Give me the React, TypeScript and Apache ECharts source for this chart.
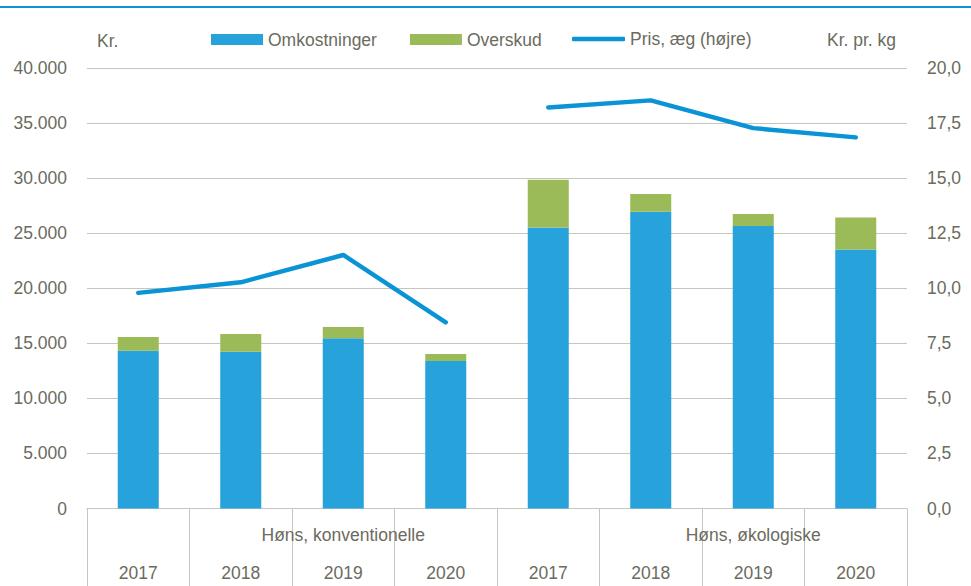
import React, { useEffect, useRef } from "react";
import * as echarts from "echarts";

const years = ["2017", "2018", "2019", "2020", "2017", "2018", "2019", "2020"];
const groupLabels = ["", "", "Høns, konventionelle", "", "", "", "Høns, økologiske", ""];
const groupSize = 4;
const omkostninger = [14330, 14240, 15450, 13390, 25510, 26940, 25660, 23510];
const overskud = [1240, 1610, 1030, 640, 4340, 1610, 1090, 2910];
const prisAeg = [9.79, 10.27, 11.51, 8.45, 18.21, 18.53, 17.27, 16.85];
const seriesNames = ["Omkostninger", "Overskud", "Pris, æg (højre)"];
const leftUnit = "Kr.";
const rightUnit = "Kr. pr. kg";

const TEXT = "#6b6b5e";
const GRID = "#c6c6bc";
const BLUE = "#27a2db";
const GREEN = "#9bbb59";
const LINE = "#0a93d5";
const FONT = "'Liberation Sans', Arial, sans-serif";
const FS = 17.5;

export default function App() {
  const ref = useRef<HTMLDivElement>(null);
  useEffect(() => {
    if (!ref.current) return;
    const chart = echarts.init(ref.current, undefined, { renderer: "svg" });
    const fmtLeft = (v: number) => String(Math.round(v)).replace(/\B(?=(\d{3})+(?!\d))/g, ".");
    const fmtRight = (v: number) => v.toFixed(1).replace(".", ",");
    const priceA = prisAeg.map((v, i) => (i < groupSize ? v : "-"));
    const priceB = prisAeg.map((v, i) => (i >= groupSize ? v : "-"));
    const legendText = { color: TEXT, fontSize: FS, fontFamily: FONT };
    chart.setOption({
      animation: false,
      textStyle: { fontFamily: FONT },
      grid: { left: 87, right: 64, top: 68, bottom: 77.5, containLabel: false },
      legend: [
        {
          data: [
            { name: seriesNames[0], icon: "rect" },
            { name: seriesNames[1], icon: "rect" },
          ],
          left: 211,
          top: 30.5,
          padding: 0,
          itemWidth: 52,
          itemHeight: 11,
          itemGap: 33,
          textStyle: legendText,
          selectedMode: false,
        },
        {
          data: [{ name: seriesNames[2], icon: "roundRect" }],
          left: 572,
          top: 30,
          padding: 0,
          itemWidth: 53,
          itemHeight: 4.5,
          textStyle: legendText,
          selectedMode: false,
        },
      ],
      graphic: [
        { type: "rect", left: 0, top: 6, shape: { width: 971, height: 2 }, style: { fill: LINE } },
        { type: "text", left: 97, top: 32, style: { text: leftUnit, fill: TEXT, font: `${FS}px ${FONT}` } },
        { type: "text", left: 827, top: 31, style: { text: rightUnit, fill: TEXT, font: `${FS}px ${FONT}` } },
      ],
      xAxis: [
        {
          type: "category",
          data: years,
          position: "bottom",
          axisLine: { show: true, lineStyle: { color: GRID, width: 1 } },
          axisTick: { show: true, length: 78, interval: 0, alignWithLabel: false, lineStyle: { color: GRID, width: 1 } },
          axisLabel: { interval: 0, margin: 55, color: TEXT, fontSize: FS, fontFamily: FONT },
          splitLine: { show: false },
        },
        {
          type: "category",
          data: groupLabels,
          position: "bottom",
          axisLine: { show: false },
          axisTick: { show: false },
          axisLabel: { interval: 0, margin: 17, color: TEXT, fontSize: FS, fontFamily: FONT },
          splitLine: { show: false },
        },
      ],
      yAxis: [
        {
          type: "value",
          min: 0,
          max: 40000,
          interval: 5000,
          axisLine: { show: false },
          axisTick: { show: false },
          axisLabel: { margin: 20, color: TEXT, fontSize: FS, fontFamily: FONT, formatter: fmtLeft },
          splitLine: { show: true, lineStyle: { color: GRID, width: 1 } },
        },
        {
          type: "value",
          min: 0,
          max: 20,
          interval: 2.5,
          position: "right",
          axisLine: { show: false },
          axisTick: { show: false },
          axisLabel: { margin: 20, color: TEXT, fontSize: FS, fontFamily: FONT, formatter: fmtRight },
          splitLine: { show: false },
        },
      ],
      series: [
        {
          name: seriesNames[0],
          type: "bar",
          stack: "total",
          data: omkostninger,
          barWidth: 41,
          itemStyle: { color: BLUE },
        },
        {
          name: seriesNames[1],
          type: "bar",
          stack: "total",
          data: overskud,
          barWidth: 41,
          itemStyle: { color: GREEN },
        },
        {
          name: seriesNames[2],
          type: "line",
          yAxisIndex: 1,
          data: priceA,
          symbol: "none",
          lineStyle: { color: LINE, width: 4.5, cap: "round", join: "round" },
          itemStyle: { color: LINE },
        },
        {
          name: seriesNames[2],
          type: "line",
          yAxisIndex: 1,
          data: priceB,
          symbol: "none",
          lineStyle: { color: LINE, width: 4.5, cap: "round", join: "round" },
          itemStyle: { color: LINE },
        },
      ],
    });
    return () => chart.dispose();
  }, []);
  return (
    <div
      ref={ref}
      style={{ position: "fixed", left: 0, top: 0, width: 971, height: 586, background: "#fff" }}
    />
  );
}
